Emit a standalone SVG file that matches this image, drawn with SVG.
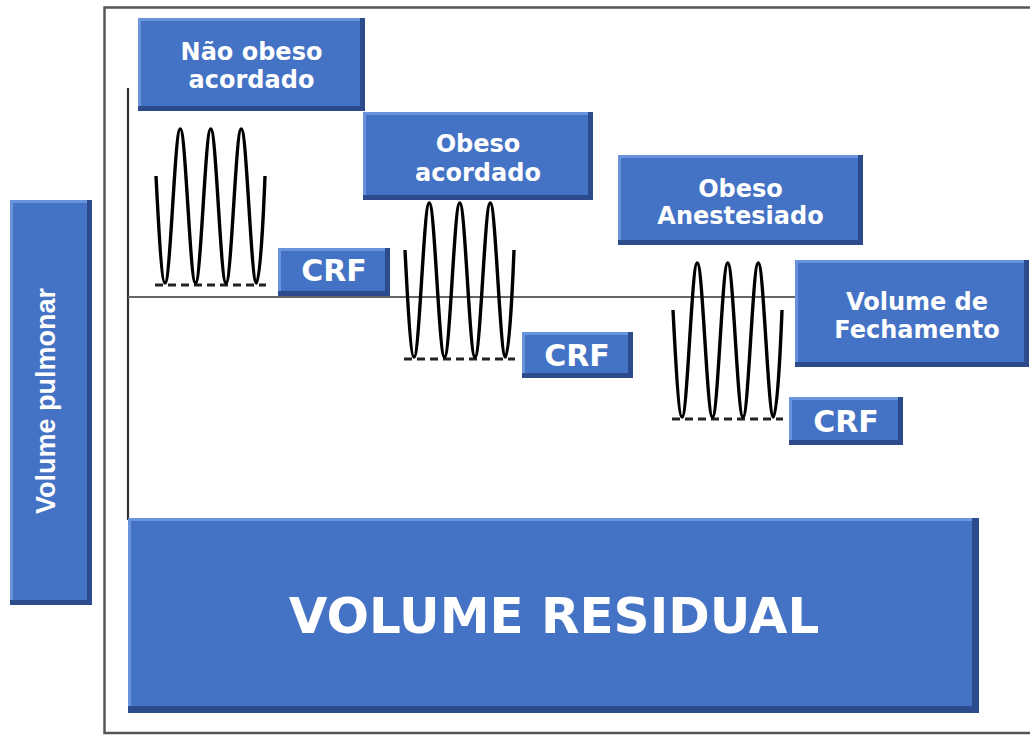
<svg xmlns="http://www.w3.org/2000/svg" xmlns:xlink="http://www.w3.org/1999/xlink" width="1030" height="736" viewBox="0 0 1030 736">
<style>
.bd{fill:#2B4B8C}
.bl{fill:#6A93DD}
.bm{fill:#4472C4}
.lbl{font-family:"DejaVu Sans",Verdana,sans-serif;font-weight:bold;fill:#ffffff;text-anchor:middle}
.t23{font-size:24px}
.crf{font-size:30px}
.wave{fill:none;stroke:#000;stroke-width:3.4;stroke-linejoin:round}
.dash{fill:none;stroke:#222;stroke-width:2.8;stroke-dasharray:8 5}
.axis{fill:none;stroke:#333;stroke-width:2.2}
.ref{fill:none;stroke:#666;stroke-width:2}
</style>
<defs>
<g id="wave">
<path class="dash" d="M155 285 H266"/>
<path class="wave" d="M156 176 C158 215,161.5 283,165 283 C170.55 283,174.7 129,180.25 129 C185.8 129,189.95 283,195.5 283 C201.05 283,205.2 129,210.75 129 C216.3 129,220.45 283,226 283 C231.55 283,235.7 129,241.25 129 C246.8 129,250.95 283,256.5 283 C260 283,263.5 215,265 176"/>
</g>
</defs>
<rect x="0" y="0" width="1030" height="736" fill="#ffffff"/>
<!-- frame -->
<path d="M1032 7.5 H104.5 V733 H1032" fill="none" stroke="#555" stroke-width="2.5"/>

<g id="connectors">
<path class="axis" d="M128 88 V520"/>
<path class="ref" d="M128 297 H797"/>
</g>

<g id="waves">
<use xlink:href="#wave"/>
<use xlink:href="#wave" transform="translate(249,74)"/>
<use xlink:href="#wave" transform="translate(517,134)"/>
</g>

<g id="nao-obeso-acordado">
<rect class="bd" x="138" y="18" width="227" height="93"/>
<rect class="bl" x="138" y="18" width="222" height="88"/>
<rect class="bm" x="141" y="21" width="219" height="85"/>
<text class="lbl t23" x="251.5" y="60">Não obeso</text>
<text class="lbl t23" x="251.5" y="88">acordado</text>
</g>

<g id="obeso-acordado">
<rect class="bd" x="363" y="112" width="230" height="88"/>
<rect class="bl" x="363" y="112" width="225" height="83"/>
<rect class="bm" x="366" y="115" width="222" height="80"/>
<text class="lbl t23" x="478" y="152">Obeso</text>
<text class="lbl t23" x="478" y="181">acordado</text>
</g>

<g id="obeso-anestesiado">
<rect class="bd" x="618" y="155" width="245" height="90"/>
<rect class="bl" x="618" y="155" width="240" height="85"/>
<rect class="bm" x="621" y="158" width="237" height="82"/>
<text class="lbl t23" x="740.5" y="197">Obeso</text>
<text class="lbl t23" x="740.5" y="224">Anestesiado</text>
</g>

<g id="volume-fechamento">
<rect class="bd" x="795" y="260" width="234" height="107"/>
<rect class="bl" x="795" y="260" width="229" height="102"/>
<rect class="bm" x="798" y="263" width="226" height="99"/>
<text class="lbl t23" x="917" y="310">Volume de</text>
<text class="lbl t23" x="917" y="338">Fechamento</text>
</g>

<g id="crf-1">
<rect class="bd" x="278" y="248" width="112" height="48"/>
<rect class="bl" x="278" y="248" width="107" height="43"/>
<rect class="bm" x="281" y="251" width="104" height="40"/>
<text class="lbl crf" x="334" y="281">CRF</text>
</g>

<g id="crf-2">
<rect class="bd" x="522" y="332" width="111" height="46"/>
<rect class="bl" x="522" y="332" width="106" height="41"/>
<rect class="bm" x="525" y="335" width="103" height="38"/>
<text class="lbl crf" x="577" y="366">CRF</text>
</g>

<g id="crf-3">
<rect class="bd" x="789" y="397" width="114" height="48"/>
<rect class="bl" x="789" y="397" width="109" height="43"/>
<rect class="bm" x="792" y="400" width="106" height="40"/>
<text class="lbl crf" x="846" y="432">CRF</text>
</g>

<g id="volume-pulmonar">
<rect class="bd" x="10" y="200" width="82" height="405"/>
<rect class="bl" x="10" y="200" width="77" height="400"/>
<rect class="bm" x="13" y="203" width="74" height="397"/>
<text transform="translate(55,401) rotate(-90)" x="0" y="0" font-family="Liberation Sans, Arial, sans-serif" font-weight="bold" font-size="27" fill="#fff" text-anchor="middle">Volume pulmonar</text>
</g>

<g id="volume-residual">
<rect class="bd" x="128" y="518" width="851" height="195"/>
<rect class="bl" x="128" y="518" width="844" height="188"/>
<rect class="bm" x="131" y="521" width="841" height="185"/>
<text class="lbl" x="554" y="633" font-size="50">VOLUME RESIDUAL</text>
</g>
</svg>
